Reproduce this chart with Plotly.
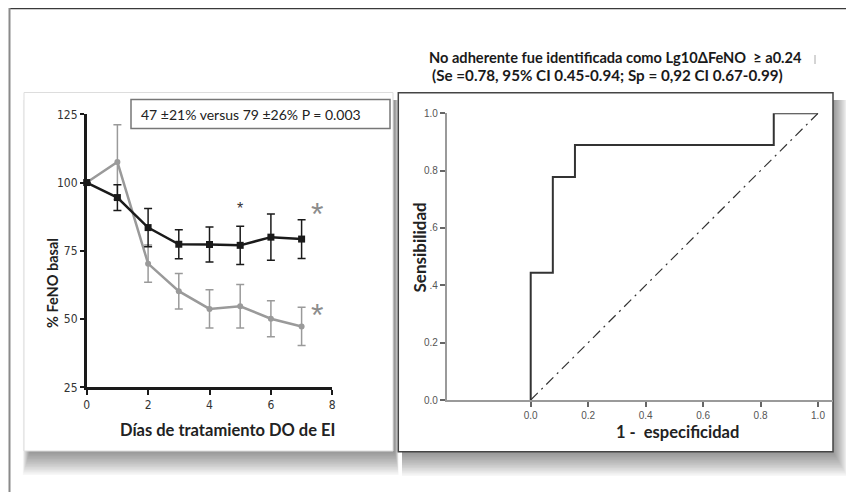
import plotly.graph_objects as go

W, H = 854, 492
OFF = 8  # page body margin

# ---------------- data ----------------
days = [0, 1, 2, 3, 4, 5, 6, 7]
adherent = [100, 94.5, 83.5, 77.4, 77.3, 77.0, 80.0, 79.3]
adherent_err = [0, 4.7, 7.0, 5.3, 6.4, 7.0, 8.5, 7.1]
non_adherent = [100, 107.5, 70.3, 60.2, 53.7, 54.7, 50.1, 47.3]
non_adherent_err = [0, 13.7, 6.8, 6.5, 7.0, 8.0, 6.6, 7.0]

left_yticks = [25, 50, 75, 100, 125]
left_xticks = [0, 2, 4, 6, 8]

roc_fpr = [0, 0, 0.077, 0.077, 0.154, 0.154, 0.846, 0.846, 1.0]
roc_tpr = [0, 0.444, 0.444, 0.778, 0.778, 0.889, 0.889, 1.0, 1.0]
ref_line = [0, 1]
roc_ticks = [0, 0.2, 0.4, 0.6, 0.8, 1.0]
roc_xticktext = ["0.0", "0.2", "0.4", "0.6", "0.8", "1.0"]
roc_yticktext = ["0.0", "0.2", ".4", ".6", "0.8", "1.0"]

stat_text = "47 \u00b121% versus 79 \u00b126% P = 0.003"
title1 = "No adherente fue identificada como Lg10\u0394FeNO  \u2265 a0.24"
title2 = "(Se =0.78, 95% CI 0.45-0.94; Sp = 0,92 CI 0.67-0.99)"


def px(x):
    return (x - OFF) / W


def py(y):
    return 1 - (y - OFF) / H


fig = go.Figure()

BLACK = "#1a1a1a"
GRAY = "#9a9a9a"

# ---- left chart ----
fig.add_trace(go.Scatter(
    x=days, y=non_adherent, mode="lines+markers",
    line=dict(color=GRAY, width=2.5),
    marker=dict(symbol="circle", size=6, color=GRAY),
    error_y=dict(type="data", array=non_adherent_err, color=GRAY, thickness=1.5, width=4),
    cliponaxis=False, xaxis="x", yaxis="y", showlegend=False))
fig.add_trace(go.Scatter(
    x=days, y=adherent, mode="lines+markers",
    line=dict(color=BLACK, width=2.5),
    marker=dict(symbol="square", size=7, color=BLACK),
    error_y=dict(type="data", array=adherent_err, color=BLACK, thickness=1.5, width=4),
    cliponaxis=False, xaxis="x", yaxis="y", showlegend=False))

# ---- ROC chart ----
fig.add_trace(go.Scatter(
    x=ref_line, y=ref_line, mode="lines",
    line=dict(color="#333333", width=1.2, dash="10px,5px,2px,5px"),
    cliponaxis=False, xaxis="x2", yaxis="y2", showlegend=False))
fig.add_trace(go.Scatter(
    x=roc_fpr, y=roc_tpr, mode="lines",
    line=dict(color="#333333", width=2),
    cliponaxis=False, xaxis="x2", yaxis="y2", showlegend=False))

tickfont_narrow = dict(family="Liberation Sans Narrow, DejaVu Sans Condensed, Arial Narrow, sans-serif",
                       size=12, color="#333333")
tickfont_small = dict(family="Liberation Sans, Arial, sans-serif", size=10, color="#555555")

fig.update_layout(
    width=W, height=H, autosize=False, showlegend=False,
    margin=dict(l=0, r=0, t=0, b=0, pad=0, autoexpand=False),
    paper_bgcolor="white", plot_bgcolor="rgba(0,0,0,0)",
    xaxis=dict(domain=[px(86.7), px(332.3)], range=[0, 8], tickvals=left_xticks,
               showline=True, linecolor=BLACK, linewidth=2.5, ticks="outside",
               ticklen=5, tickwidth=2, tickcolor=BLACK, showgrid=False, zeroline=False,
               tickfont=tickfont_narrow, anchor="y", automargin=False),
    yaxis=dict(domain=[py(387.3), py(114.3)], range=[25, 125], tickvals=left_yticks,
               showline=True, linecolor=BLACK, linewidth=2.5, ticks="outside",
               ticklen=4, tickwidth=2, tickcolor=BLACK, showgrid=False, zeroline=False,
               tickfont=tickfont_narrow, anchor="x", ticklabelstandoff=0, automargin=False),
    xaxis2=dict(domain=[px(446.7), px(833)], range=[-0.2924, 1.0522], tickvals=roc_ticks,
                ticktext=roc_xticktext, showline=True, linecolor="#9a9a9a", linewidth=1.5,
                ticks="outside", ticklen=5, tickwidth=1.5, tickcolor="#666666",
                showgrid=False, zeroline=False, tickfont=tickfont_small, anchor="y2",
                automargin=False),
    yaxis2=dict(domain=[py(400), py(113.3)], range=[0, 1], tickvals=roc_ticks,
                ticktext=roc_yticktext, showline=True, linecolor="#9a9a9a", linewidth=1.5,
                ticks="outside", ticklen=5, tickwidth=1.5, tickcolor="#666666",
                showgrid=False, zeroline=False, tickfont=tickfont_small, anchor="x2",
                automargin=False),
)

shapes = []
# slide border
shapes.append(dict(type="line", xref="paper", yref="paper", x0=px(9), x1=px(862), y0=py(8.5), y1=py(8.5),
                   line=dict(color="#3a3a3a", width=1.5), layer="below"))
shapes.append(dict(type="line", xref="paper", yref="paper", x0=px(9.5), x1=px(9.5), y0=py(8), y1=py(500),
                   line=dict(color="#8a8a8a", width=2), layer="below"))

# shadows (stacked translucent rectangles)
N = 15
for i in range(N):
    d = (i + 1) * 1.6
    shapes.append(dict(type="rect", xref="paper", yref="paper",
                       x0=px(24 + 6 - d * 0.3), x1=px(395 + d * 0.15), y0=py(100), y1=py(451 + d),
                       fillcolor="rgba(0,0,0,0.03)", line=dict(width=0), layer="below"))
    shapes.append(dict(type="rect", xref="paper", yref="paper",
                       x0=px(398 + 4), x1=px(833 + d * 0.6), y0=py(100), y1=py(452 + d),
                       fillcolor="rgba(0,0,0,0.03)", line=dict(width=0), layer="below"))

# panels
shapes.append(dict(type="rect", xref="paper", yref="paper", x0=px(24), x1=px(393), y0=py(451), y1=py(92.5),
                   fillcolor="white", line=dict(color="#dddddd", width=1), layer="below"))
shapes.append(dict(type="rect", xref="paper", yref="paper", x0=px(398.3), x1=px(833), y0=py(451.7), y1=py(92.7),
                   fillcolor="white", line=dict(color="#444444", width=1.5), layer="below"))
# stat box
shapes.append(dict(type="rect", xref="paper", yref="paper", x0=px(131), x1=px(390), y0=py(128.5), y1=py(99.5),
                   fillcolor="white", line=dict(color="#777777", width=1.5), layer="below"))
# small mark near title
shapes.append(dict(type="line", xref="paper", yref="paper", x0=px(815), x1=px(815), y0=py(55), y1=py(64),
                   line=dict(color="#aaaaaa", width=1), layer="below"))
fig.update_layout(shapes=shapes)

FAM = "Lato, Open Sans, sans-serif"
annotations = [
    dict(text=stat_text, xref="paper", yref="paper", x=px(139), y=py(114), showarrow=False,
         font=dict(family=FAM, size=14, color="#222222"),
         xanchor="left", yanchor="middle"),
    dict(text="<b>% FeNO basal</b>", xref="paper", yref="paper", x=px(52), y=py(283), textangle=-90,
         showarrow=False, font=dict(family=FAM, size=14.5, color="#222222"),
         xanchor="center", yanchor="middle"),
    dict(text="<b>D\u00edas de tratamiento DO de EI</b>", xref="paper", yref="paper", x=px(227), y=py(430),
         showarrow=False, font=dict(family=FAM, size=16.5, color="#222222"),
         xanchor="center", yanchor="middle"),
    dict(text="<b>Sensibilidad</b>", xref="paper", yref="paper", x=px(418.5), y=py(248), textangle=-90,
         showarrow=False, font=dict(family=FAM, size=17, color="#222222"),
         xanchor="center", yanchor="middle"),
    dict(text="<b>1 -  especificidad</b>", xref="paper", yref="paper", x=px(677.5), y=py(432),
         showarrow=False, font=dict(family=FAM, size=16.5, color="#222222"),
         xanchor="center", yanchor="middle"),
    dict(text="<b>" + title1 + "</b>", xref="paper", yref="paper", x=px(427), y=py(57),
         showarrow=False, font=dict(family=FAM, size=14.6, color="#1a1a1a"),
         xanchor="left", yanchor="middle"),
    dict(text="<b>" + title2 + "</b>", xref="paper", yref="paper", x=px(430), y=py(75),
         showarrow=False, font=dict(family=FAM, size=15.2, color="#1a1a1a"),
         xanchor="left", yanchor="middle"),
    dict(text="*", xref="x", yref="y", x=5, y=90.5, showarrow=False,
         font=dict(family="Liberation Sans, Arial, sans-serif", size=16, color="#333333")),
    dict(text="*", xref="x", yref="y", x=7.5, y=88.5, showarrow=False,
         font=dict(family="Liberation Sans, Arial, sans-serif", size=32, color="#8c8c8c")),
    dict(text="*", xref="x", yref="y", x=7.5, y=51.5, showarrow=False,
         font=dict(family="Liberation Sans, Arial, sans-serif", size=32, color="#8c8c8c")),
]
fig.update_layout(annotations=annotations)

fig.write_html("out.html")
